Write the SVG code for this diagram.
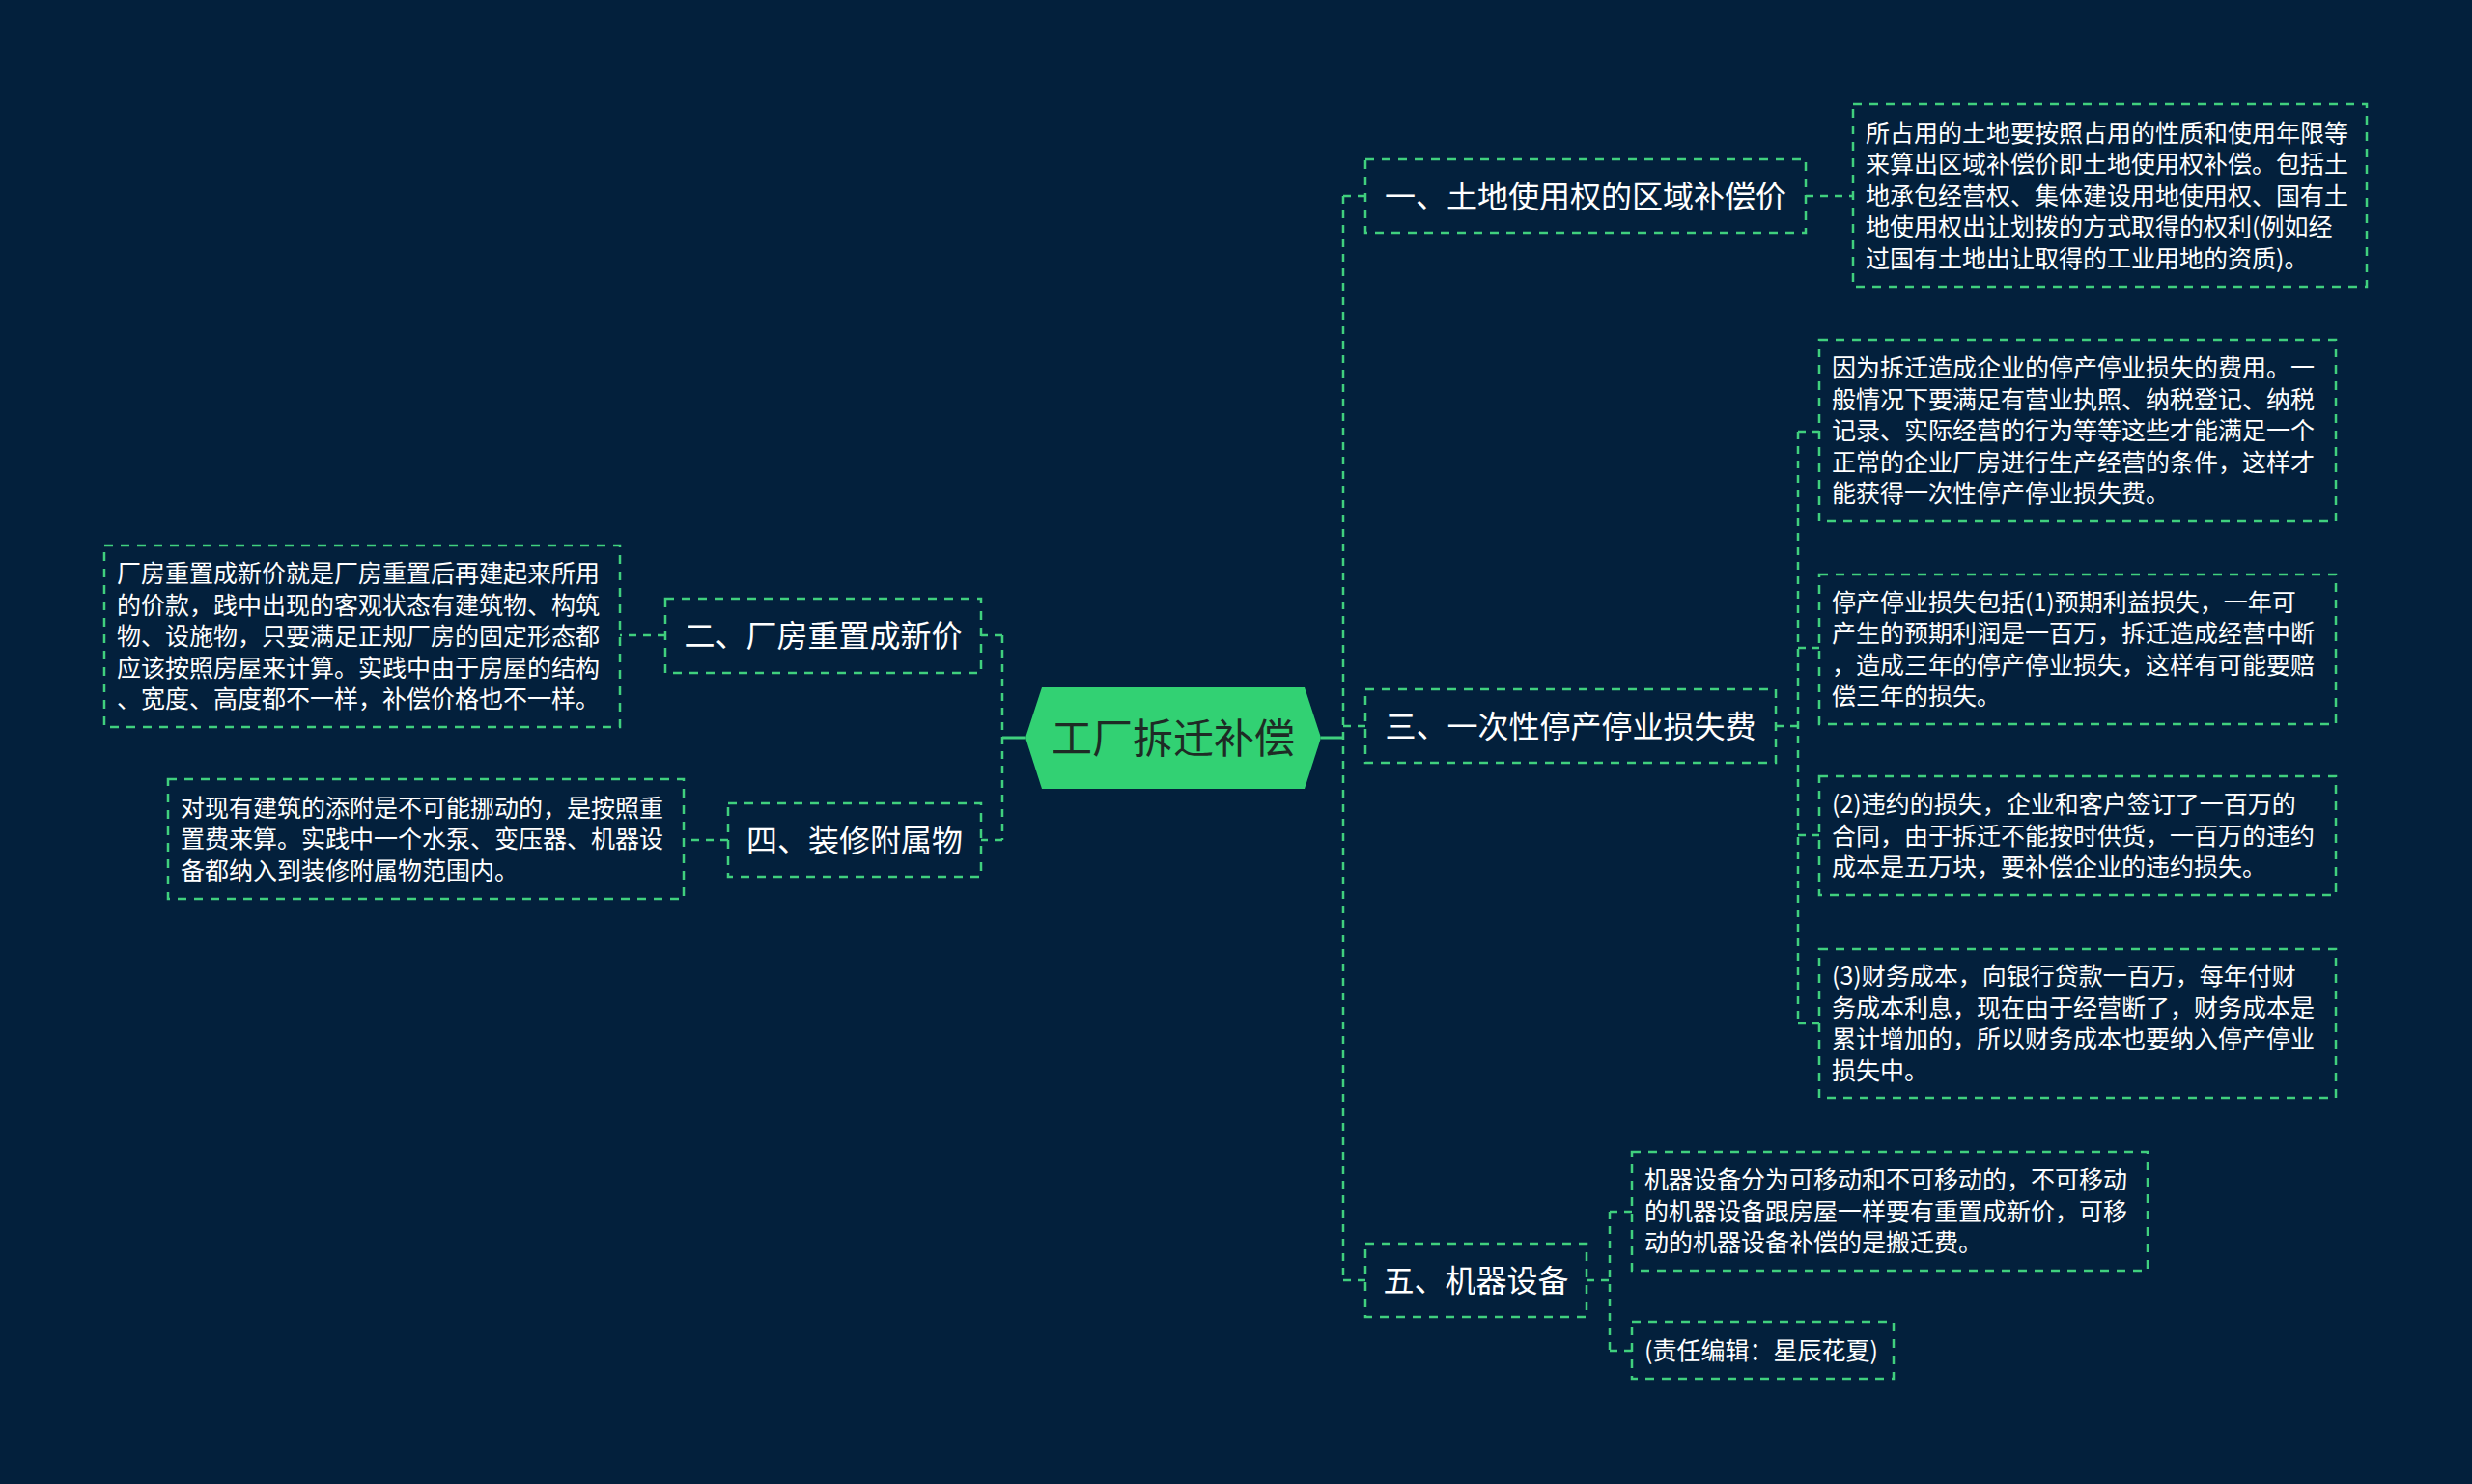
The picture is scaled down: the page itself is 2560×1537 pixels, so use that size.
<svg xmlns="http://www.w3.org/2000/svg" width="2560" height="1537" viewBox="0 0 2560 1537">
<style>
.bg{fill:#03203c}
.box{fill:none;stroke:#40d07e;stroke-width:2.5;stroke-dasharray:9 8}
.conn{fill:none;stroke:#40d07e;stroke-width:2.5;stroke-dasharray:8 7}
.solid{fill:none;stroke:#40d07e;stroke-width:3}
.t{font-family:"Noto Sans CJK SC","Noto Sans",sans-serif;fill:#ffffff}
.title{font-size:32px;text-anchor:middle}
.desc{font-size:25px}
.root{font-family:"Noto Sans CJK SC","Noto Sans",sans-serif;font-size:42px;fill:#1e2b25;text-anchor:middle}
</style>
<rect class="bg" x="0" y="0" width="2560" height="1537"/>
<g id="connectors">
<path class="solid" d="M1368,764 H1391 M1062,764 H1038"/>
<path class="conn" d="M1391,203 V1326"/>
<path class="conn" d="M1391,203 H1414"/>
<path class="conn" d="M1391,752 H1414"/>
<path class="conn" d="M1391,1326 H1414"/>
<path class="conn" d="M1038,658 V870"/>
<path class="conn" d="M1038,658 H1016"/>
<path class="conn" d="M1038,870 H1016"/>
<path class="conn" d="M1870,203 H1919"/>
<path class="conn" d="M1839,752 H1862"/>
<path class="conn" d="M1862,447 V1060"/>
<path class="conn" d="M1862,447 H1884"/>
<path class="conn" d="M1862,671 H1884"/>
<path class="conn" d="M1862,865 H1884"/>
<path class="conn" d="M1862,1060 H1884"/>
<path class="conn" d="M1643,1326 H1667"/>
<path class="conn" d="M1667,1255 V1399"/>
<path class="conn" d="M1667,1255 H1690"/>
<path class="conn" d="M1667,1399 H1690"/>
<path class="conn" d="M689,658 H642"/>
<path class="conn" d="M754,870 H708"/>
</g>
<g id="root">
<polygon points="1062,764 1079,712 1351,712 1368,764 1351,817 1079,817" fill="#32d173"/>
<text class="root" x="1215" y="780">工厂拆迁补偿</text>
</g>
<g id="n1">
<rect class="box" x="1414" y="165" width="456" height="76"/>
<text class="t title" x="1642" y="215">一、土地使用权的区域补偿价</text>
</g>
<g id="n1d">
<rect class="box" x="1919" y="108" width="532" height="189"/>
<text class="t desc" x="1932" y="146.5">所占用的土地要按照占用的性质和使用年限等</text>
<text class="t desc" x="1932" y="179">来算出区域补偿价即土地使用权补偿。包括土</text>
<text class="t desc" x="1932" y="211.5">地承包经营权、集体建设用地使用权、国有土</text>
<text class="t desc" x="1932" y="244">地使用权出让划拨的方式取得的权利(例如经</text>
<text class="t desc" x="1932" y="276.5">过国有土地出让取得的工业用地的资质)。</text>
</g>
<g id="n3">
<rect class="box" x="1414" y="714" width="425" height="76"/>
<text class="t title" x="1626.5" y="764">三、一次性停产停业损失费</text>
</g>
<g id="n3a">
<rect class="box" x="1884" y="352" width="535" height="188"/>
<text class="t desc" x="1897" y="390">因为拆迁造成企业的停产停业损失的费用。一</text>
<text class="t desc" x="1897" y="422.5">般情况下要满足有营业执照、纳税登记、纳税</text>
<text class="t desc" x="1897" y="455">记录、实际经营的行为等等这些才能满足一个</text>
<text class="t desc" x="1897" y="487.5">正常的企业厂房进行生产经营的条件，这样才</text>
<text class="t desc" x="1897" y="520">能获得一次性停产停业损失费。</text>
</g>
<g id="n3b">
<rect class="box" x="1884" y="595" width="535" height="155"/>
<text class="t desc" x="1897" y="632.5">停产停业损失包括(1)预期利益损失，一年可</text>
<text class="t desc" x="1897" y="665">产生的预期利润是一百万，拆迁造成经营中断</text>
<text class="t desc" x="1897" y="697.5">，造成三年的停产停业损失，这样有可能要赔</text>
<text class="t desc" x="1897" y="730">偿三年的损失。</text>
</g>
<g id="n3c">
<rect class="box" x="1884" y="804" width="535" height="123"/>
<text class="t desc" x="1897" y="842">(2)违约的损失，企业和客户签订了一百万的</text>
<text class="t desc" x="1897" y="874.5">合同，由于拆迁不能按时供货，一百万的违约</text>
<text class="t desc" x="1897" y="907">成本是五万块，要补偿企业的违约损失。</text>
</g>
<g id="n3d">
<rect class="box" x="1884" y="983" width="535" height="154"/>
<text class="t desc" x="1897" y="1020">(3)财务成本，向银行贷款一百万，每年付财</text>
<text class="t desc" x="1897" y="1052.5">务成本利息，现在由于经营断了，财务成本是</text>
<text class="t desc" x="1897" y="1085">累计增加的，所以财务成本也要纳入停产停业</text>
<text class="t desc" x="1897" y="1117.5">损失中。</text>
</g>
<g id="n5">
<rect class="box" x="1414" y="1288" width="229" height="76"/>
<text class="t title" x="1528.5" y="1338">五、机器设备</text>
</g>
<g id="n5a">
<rect class="box" x="1690" y="1193" width="534" height="123"/>
<text class="t desc" x="1703" y="1231">机器设备分为可移动和不可移动的，不可移动</text>
<text class="t desc" x="1703" y="1263.5">的机器设备跟房屋一样要有重置成新价，可移</text>
<text class="t desc" x="1703" y="1296">动的机器设备补偿的是搬迁费。</text>
</g>
<g id="n5b">
<rect class="box" x="1690" y="1369" width="271" height="59"/>
<text class="t desc" x="1703" y="1407.5">(责任编辑：星辰花夏)</text>
</g>
<g id="n2">
<rect class="box" x="689" y="620" width="327" height="77"/>
<text class="t title" x="852.5" y="670">二、厂房重置成新价</text>
</g>
<g id="n2d">
<rect class="box" x="108" y="565" width="534" height="188"/>
<text class="t desc" x="121" y="603">厂房重置成新价就是厂房重置后再建起来所用</text>
<text class="t desc" x="121" y="635.5">的价款，践中出现的客观状态有建筑物、构筑</text>
<text class="t desc" x="121" y="668">物、设施物，只要满足正规厂房的固定形态都</text>
<text class="t desc" x="121" y="700.5">应该按照房屋来计算。实践中由于房屋的结构</text>
<text class="t desc" x="121" y="733">、宽度、高度都不一样，补偿价格也不一样。</text>
</g>
<g id="n4">
<rect class="box" x="754" y="832" width="262" height="76"/>
<text class="t title" x="885" y="882">四、装修附属物</text>
</g>
<g id="n4d">
<rect class="box" x="174" y="807" width="534" height="124"/>
<text class="t desc" x="187" y="845.5">对现有建筑的添附是不可能挪动的，是按照重</text>
<text class="t desc" x="187" y="878">置费来算。实践中一个水泵、变压器、机器设</text>
<text class="t desc" x="187" y="910.5">备都纳入到装修附属物范围内。</text>
</g>
</svg>
